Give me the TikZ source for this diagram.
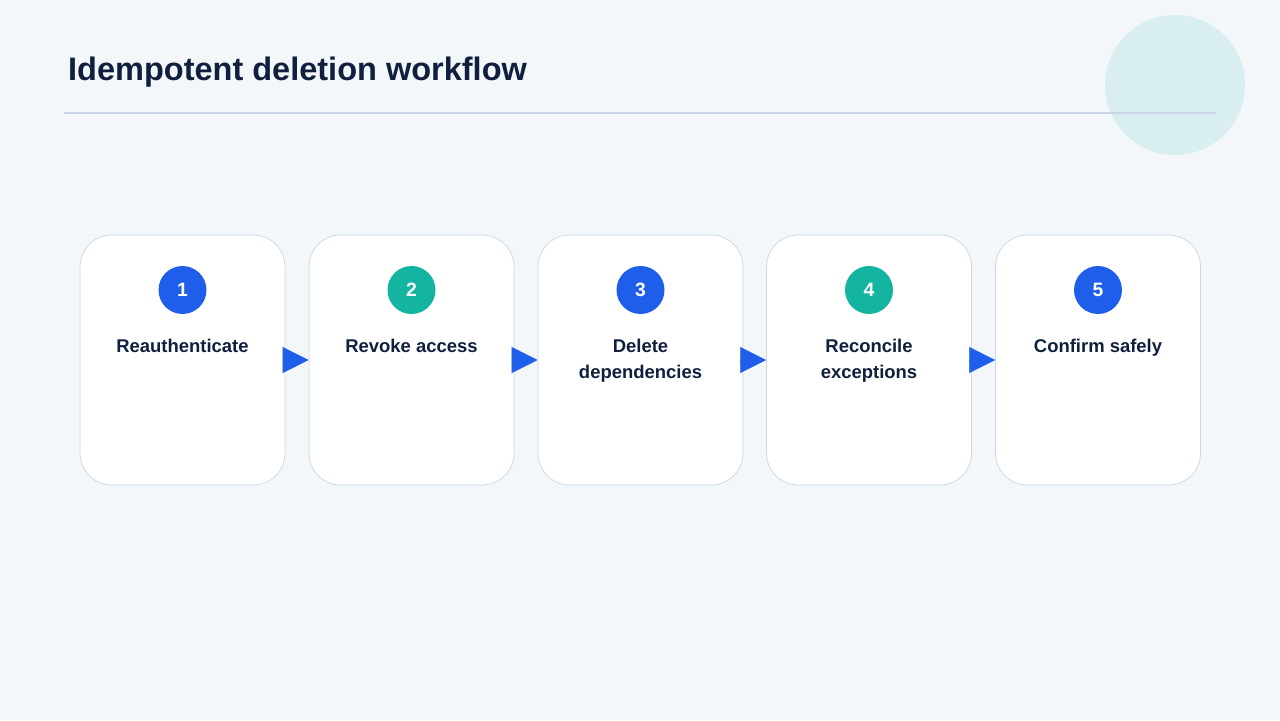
\documentclass[tikz,border=0pt]{standalone}
\usepackage{fontspec}
\setmainfont{Liberation Sans}
\usetikzlibrary{positioning,arrows.meta}
\definecolor{bg1}{HTML}{F3F7FA}
\definecolor{ink1}{HTML}{0F1F3D}
\definecolor{blue1}{HTML}{1F5EEA}
\definecolor{teal1}{HTML}{14B5A0}
\definecolor{rule1}{HTML}{C9D5E6}
\definecolor{deco1}{HTML}{D8EEF0}
\tikzset{
  stage/.style={draw=rule1,fill=white,rounded corners=18pt,minimum width=4.1cm,minimum height=5cm},
  badge/.style={circle,minimum size=0.96cm,inner sep=0pt,text=white,font=\bfseries\fontsize{11}{13}\selectfont},
  caption/.style={text=ink1,align=center,font=\bfseries\fontsize{10.5}{14.5}\selectfont,anchor=north},
  link/.style={blue1,line width=0.1pt,-{Triangle[length=0.52cm,width=0.52cm]}}
}
\begin{document}
\begin{tikzpicture}[x=0.02cm,y=-0.02cm]
\fill[bg1] (0,0) rectangle (1280,720);
\useasboundingbox (0,0) rectangle (1280,720);

\fill[deco1] (1175,85) circle (70);
\node[anchor=west,text=ink1,font=\bfseries\fontsize{18.5}{22}\selectfont] (title) at (62,72) {Idempotent deletion workflow};
\draw[rule1,line width=0.7pt] (64,113) -- (1216,113);

% stages
\foreach \i/\x/\c/\t in {1/182.5/blue1/Reauthenticate,
                          2/411.5/teal1/Revoke access,
                          3/640.5/blue1/Delete\\dependencies,
                          4/869/teal1/Reconcile\\exceptions,
                          5/1098/blue1/Confirm safely}{
  \node[stage] (s\i) at (\x,360) {};
  \node[badge,fill=\c] (n\i) at (\x,290) {\i};
  \node[caption] (t\i) at (\x,333) {\t};
}

\foreach \a/\b in {1/2,2/3,3/4,4/5}
  \draw[link] (s\a.east) -- (s\b.west);

\end{tikzpicture}
\end{document}
